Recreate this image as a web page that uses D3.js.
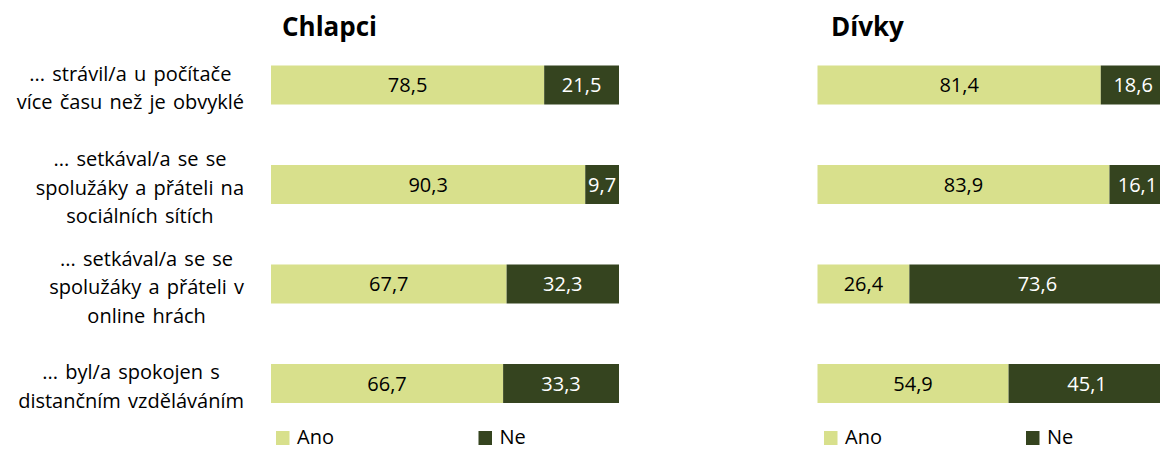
<!DOCTYPE html>
<html>
<head>
<meta charset="utf-8">
<script src="https://cdn.jsdelivr.net/npm/d3@7"></script>
<style>
  html, body { margin: 0; padding: 0; background: #fff; }
  svg { display: block; font-family: "Open Sans", "Noto Sans", sans-serif; }
</style>
</head>
<body>
<svg id="chart" width="1160" height="450"></svg>
<script>
// Survey items (each label split into its display lines)
const categories = [
  ["... strávil/a u počítače", "více času než je obvyklé"],
  ["... setkával/a se se", "spolužáky a přáteli na", "sociálních sítích"],
  ["... setkával/a se se", "spolužáky a přáteli v", "online hrách"],
  ["... byl/a spokojen s", "distančním vzděláváním"]
];
const groups = ["Chlapci", "Dívky"];
const seriesNames = ["Ano", "Ne"];
const boysYes = [78.5, 90.3, 67.7, 66.7];
const boysNo = [21.5, 9.7, 32.3, 33.3];
const girlsYes = [81.4, 83.9, 26.4, 54.9];
const girlsNo = [18.6, 16.1, 73.6, 45.1];

const colors = { Ano: "#d8e08c", Ne: "#35441f" };
const fmt = v => d3.format(".1f")(v).replace(".", ",");

const svg = d3.select("#chart");

// Vertical placement of the four rows (centres)
const idx = d3.range(categories.length);
const y = d3.scalePoint().domain(idx).range([85, 383.5]);
const barH = 39;

const panels = [
  { title: groups[0], left: 271, titleX: 282, yes: boysYes, no: boysNo, legendX: [276, 478.5] },
  { title: groups[1], left: 817.5, titleX: 831, yes: girlsYes, no: girlsNo, legendX: [824, 1026] }
];

panels.forEach(p => {
  const x = d3.scaleLinear().domain([0, 100]).range([p.left, p.left + 348]);
  const g = svg.append("g");

  g.append("text")
    .attr("x", p.titleX).attr("y", 36)
    .attr("font-size", 26).attr("font-weight", 700).attr("fill", "#000")
    .text(p.title);

  const rows = idx.map(i => ({
    i,
    segs: [
      { name: "Ano", x0: 0, x1: p.yes[i], v: p.yes[i] },
      { name: "Ne", x0: p.yes[i], x1: p.yes[i] + p.no[i], v: p.no[i] }
    ]
  }));

  const row = g.selectAll("g.row").data(rows).join("g").attr("class", "row");
  const seg = row.selectAll("g.seg").data(r => r.segs.map(s => ({ ...s, i: r.i }))).join("g").attr("class", "seg");

  seg.append("rect")
    .attr("x", d => x(d.x0))
    .attr("y", d => y(d.i) - barH / 2)
    .attr("width", d => x(d.x1) - x(d.x0))
    .attr("height", barH)
    .attr("fill", d => colors[d.name]);

  seg.append("text")
    .attr("x", d => (x(d.x0) + x(d.x1)) / 2)
    .attr("y", d => y(d.i))
    .attr("dy", "0.36em")
    .attr("text-anchor", "middle")
    .attr("font-size", 20)
    .attr("fill", d => d.name === "Ano" ? "#000" : "#fff")
    .text(d => fmt(d.v));

  // Legend
  const leg = g.selectAll("g.leg").data(seriesNames).join("g").attr("class", "leg")
    .attr("transform", (d, k) => `translate(${p.legendX[k]},430)`);
  leg.append("rect").attr("y", 1).attr("width", 13.5).attr("height", 14).attr("fill", d => colors[d]);
  leg.append("text").attr("x", 21).attr("y", 14).attr("font-size", 20).attr("fill", "#000").text(d => d);
});

// Category labels: each block centred on its widest line, right edge at 245
const lineH = 28.5;
const lab = svg.append("g").selectAll("text").data(idx).join("text")
  .attr("text-anchor", "middle")
  .attr("font-size", 20)
  .attr("word-spacing", 2)
  .attr("fill", "#000");
lab.selectAll("tspan").data(i => categories[i]).join("tspan")
  .attr("x", 0)
  .attr("y", (d, k) => k * lineH)
  .attr("dy", "0.35em")
  .text(d => d);
lab.each(function (i) {
  const w = d3.max(d3.select(this).selectAll("tspan").nodes(), n => n.getComputedTextLength());
  const cy = y(i) + 3 - (categories[i].length - 1) * lineH / 2;
  d3.select(this).attr("transform", `translate(${244 - w / 2},${cy})`);
});
</script>
</body>
</html>
